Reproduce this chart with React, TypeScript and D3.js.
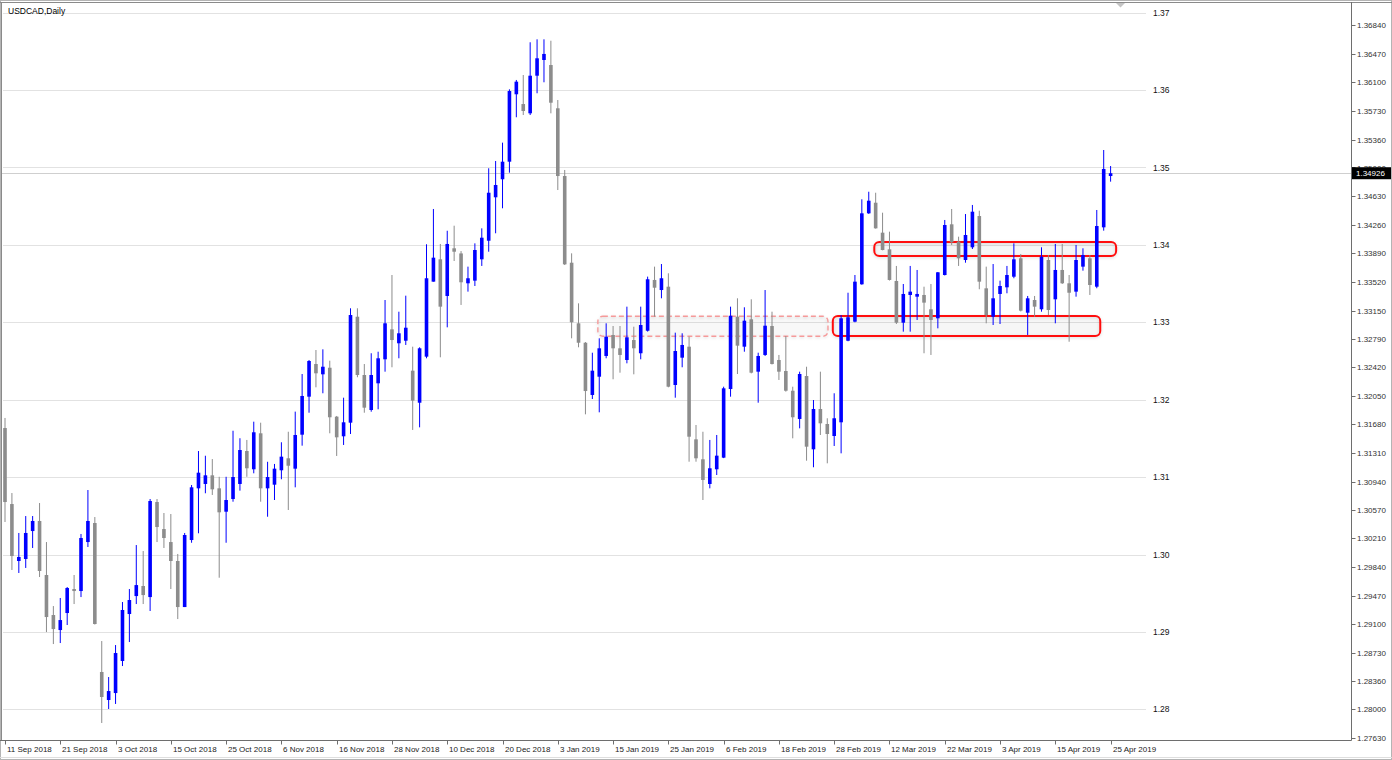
import React from 'react';
import * as d3 from 'd3';

// ---- Data: daily USDCAD candles [open, high, low, close] grouped by month ----
const sep2018: number[][] = [
  [1.31634, 1.31764, 1.3042, 1.30678],
  [1.30652, 1.30794, 1.298, 1.2998],
  [1.29916, 1.30278, 1.29761, 1.29968],
  [1.29942, 1.30497, 1.29826, 1.30278],
  [1.30303, 1.30497, 1.30084, 1.30433],
  [1.30433, 1.30665, 1.29709, 1.29787],
  [1.29735, 1.30161, 1.28998, 1.29192],
  [1.29218, 1.29334, 1.28843, 1.29037],
  [1.29024, 1.29438, 1.28856, 1.29153],
  [1.29244, 1.2958, 1.29089, 1.29567],
  [1.29554, 1.29735, 1.2936, 1.29528],
  [1.29528, 1.30265, 1.2945, 1.30213],
  [1.30161, 1.30833, 1.30097, 1.30433],
  [1.30407, 1.30484, 1.29095, 1.29102],
];
const oct2018: number[][] = [
  [1.28482, 1.28882, 1.27823, 1.28159],
  [1.2812, 1.28417, 1.28004, 1.28236],
  [1.2821, 1.2883, 1.28069, 1.28727],
  [1.28624, 1.29386, 1.28559, 1.29283],
  [1.29231, 1.29554, 1.28869, 1.29412],
  [1.29463, 1.30122, 1.2936, 1.29605],
  [1.29593, 1.30045, 1.2936, 1.29476],
  [1.2945, 1.30717, 1.2927, 1.30691],
  [1.30678, 1.30717, 1.30161, 1.30355],
  [1.30329, 1.30536, 1.30084, 1.30213],
  [1.30161, 1.30523, 1.29554, 1.29916],
  [1.29916, 1.30007, 1.29166, 1.29321],
  [1.29321, 1.30278, 1.29321, 1.30252],
  [1.30187, 1.30898, 1.30152, 1.30868],
  [1.30855, 1.31337, 1.30274, 1.31057],
  [1.30911, 1.31276, 1.30791, 1.31023],
  [1.31023, 1.31233, 1.30769, 1.30842],
  [1.30855, 1.31004, 1.297, 1.30545],
  [1.30553, 1.31004, 1.30152, 1.30704],
  [1.30717, 1.31599, 1.30682, 1.31001],
  [1.30911, 1.31502, 1.30825, 1.3135],
  [1.31337, 1.3148, 1.31004, 1.31114],
  [1.31101, 1.31716, 1.31049, 1.31579],
];
const nov2018: number[][] = [
  [1.31566, 1.31703, 1.30682, 1.30855],
  [1.30855, 1.31198, 1.30488, 1.31001],
  [1.30902, 1.3117, 1.30704, 1.31109],
  [1.31088, 1.3145, 1.30972, 1.31264],
  [1.31243, 1.31586, 1.30575, 1.31147],
  [1.31109, 1.31846, 1.30868, 1.31544],
  [1.31548, 1.32332, 1.31406, 1.32048],
  [1.32039, 1.32513, 1.31832, 1.325],
  [1.32461, 1.32642, 1.3216, 1.32341],
  [1.32328, 1.32651, 1.32083, 1.32426],
  [1.32413, 1.32504, 1.31566, 1.31773],
  [1.31781, 1.3179, 1.31273, 1.31514],
  [1.31527, 1.32026, 1.31415, 1.31708],
  [1.31703, 1.33181, 1.31557, 1.33094],
  [1.33072, 1.33181, 1.3229, 1.32319],
  [1.32319, 1.32461, 1.31832, 1.31897],
  [1.31867, 1.326, 1.31845, 1.32319],
  [1.32212, 1.3262, 1.31876, 1.32535],
  [1.32522, 1.33288, 1.32362, 1.32987],
  [1.32909, 1.33611, 1.32419, 1.32771],
  [1.32729, 1.33137, 1.32535, 1.32858],
  [1.32762, 1.33344, 1.32707, 1.3293],
];
const dec2018: number[][] = [
  [1.32375, 1.32685, 1.31609, 1.31988],
  [1.31961, 1.32677, 1.31643, 1.32664],
  [1.32556, 1.34008, 1.32535, 1.33569],
  [1.33525, 1.34464, 1.33525, 1.33835],
  [1.33814, 1.34012, 1.32548, 1.33202],
  [1.3334, 1.34183, 1.32935, 1.34012],
  [1.33956, 1.34248, 1.33792, 1.33912],
  [1.3389, 1.3392, 1.33224, 1.33517],
  [1.33504, 1.33719, 1.33396, 1.33569],
  [1.33538, 1.3402, 1.33469, 1.33934],
  [1.33814, 1.34214, 1.33728, 1.34093],
  [1.34054, 1.3499, 1.33912, 1.34674],
  [1.34615, 1.35084, 1.3415, 1.34774],
  [1.34848, 1.35321, 1.34473, 1.35075],
  [1.35075, 1.3601, 1.34933, 1.35988],
  [1.35946, 1.36131, 1.35649, 1.36109],
  [1.3582, 1.36195, 1.35678, 1.3573],
  [1.357, 1.36618, 1.35678, 1.36186],
  [1.36186, 1.36656, 1.35959, 1.36411],
  [1.36389, 1.36656, 1.36101, 1.36467],
];
const jan2019: number[][] = [
  [1.36324, 1.36638, 1.357, 1.35837],
  [1.35765, 1.35872, 1.34709, 1.3489],
  [1.3489, 1.34968, 1.3374, 1.33749],
  [1.3377, 1.33891, 1.32793, 1.33],
  [1.32987, 1.33245, 1.32677, 1.32736],
  [1.32736, 1.32745, 1.31811, 1.32112],
  [1.32061, 1.32607, 1.32009, 1.32375],
  [1.32297, 1.32793, 1.31837, 1.32664],
  [1.32565, 1.32987, 1.32535, 1.32814],
  [1.32836, 1.32952, 1.32264, 1.32664],
  [1.32664, 1.32952, 1.32349, 1.32578],
  [1.32513, 1.33202, 1.3247, 1.32806],
  [1.32771, 1.32943, 1.32328, 1.32664],
  [1.326, 1.33202, 1.32522, 1.32965],
  [1.32891, 1.3359, 1.3288, 1.33556],
  [1.33547, 1.33719, 1.33072, 1.33447],
  [1.33417, 1.33753, 1.3331, 1.33569],
  [1.3346, 1.33633, 1.3216, 1.32168],
  [1.3219, 1.32866, 1.32026, 1.32629],
  [1.32543, 1.32858, 1.32419, 1.32707],
  [1.32685, 1.32814, 1.31199, 1.31522],
  [1.31488, 1.31673, 1.31199, 1.31243],
];
const feb2019: number[][] = [
  [1.3123, 1.31586, 1.30704, 1.30963],
  [1.30911, 1.3148, 1.30855, 1.31114],
  [1.31101, 1.31544, 1.31027, 1.31277],
  [1.31251, 1.32168, 1.31245, 1.32147],
  [1.32138, 1.33202, 1.32039, 1.33085],
  [1.33072, 1.3331, 1.32332, 1.32698],
  [1.32685, 1.33194, 1.3262, 1.33021],
  [1.33039, 1.33297, 1.3234, 1.32349],
  [1.32362, 1.32607, 1.31961, 1.32565],
  [1.32578, 1.33417, 1.32565, 1.32956],
  [1.32952, 1.33137, 1.32455, 1.32461],
  [1.32513, 1.32578, 1.32255, 1.32362],
  [1.32371, 1.32823, 1.32104, 1.32116],
  [1.32116, 1.32168, 1.31501, 1.31773],
  [1.31751, 1.32362, 1.3163, 1.32332],
  [1.32306, 1.32426, 1.31212, 1.31393],
  [1.31359, 1.31996, 1.31127, 1.3188],
  [1.3188, 1.32362, 1.31544, 1.31695],
  [1.31686, 1.3176, 1.31178, 1.31557],
  [1.31531, 1.32083, 1.31402, 1.3176],
];
const mar2019: number[][] = [
  [1.31708, 1.33094, 1.31307, 1.33052],
  [1.32762, 1.33382, 1.32755, 1.33065],
  [1.33008, 1.33611, 1.33, 1.33525],
  [1.33491, 1.34589, 1.33485, 1.34408],
  [1.34408, 1.34687, 1.344, 1.34571],
  [1.34545, 1.34674, 1.3421, 1.34214],
  [1.34158, 1.34416, 1.3393, 1.33934],
  [1.33943, 1.34171, 1.3354, 1.33547],
  [1.33534, 1.33728, 1.32978, 1.32995],
  [1.32995, 1.33495, 1.32879, 1.33366],
  [1.33353, 1.33728, 1.32879, 1.33396],
  [1.33331, 1.33676, 1.3303, 1.33366],
  [1.33353, 1.3346, 1.326, 1.33254],
  [1.33168, 1.33495, 1.32578, 1.3303],
  [1.33052, 1.3365, 1.32922, 1.33646],
  [1.33611, 1.34322, 1.33605, 1.34257],
  [1.34266, 1.34464, 1.33999, 1.34034],
  [1.34042, 1.34106, 1.33728, 1.33827],
  [1.33805, 1.34399, 1.3377, 1.34128],
  [1.33969, 1.34516, 1.33947, 1.34429],
  [1.34373, 1.34442, 1.33427, 1.33525],
];
const apr2019: number[][] = [
  [1.33439, 1.33719, 1.32987, 1.33094],
  [1.33072, 1.33753, 1.32965, 1.3331],
  [1.33366, 1.33538, 1.32978, 1.33469],
  [1.33452, 1.33728, 1.33375, 1.33611],
  [1.33589, 1.3402, 1.33569, 1.33814],
  [1.33827, 1.33882, 1.3314, 1.3315],
  [1.33124, 1.3334, 1.32836, 1.3331],
  [1.33288, 1.3334, 1.33072, 1.33202],
  [1.33168, 1.33969, 1.33137, 1.33848],
  [1.33805, 1.33869, 1.33094, 1.33159],
  [1.33297, 1.34012, 1.32987, 1.33676],
  [1.33676, 1.34012, 1.33495, 1.33504],
  [1.33504, 1.33611, 1.32749, 1.33382],
  [1.33396, 1.33999, 1.33331, 1.33805],
  [1.33719, 1.33956, 1.33667, 1.33869],
  [1.33827, 1.33869, 1.33353, 1.33482],
  [1.3346, 1.34451, 1.3344, 1.34244],
  [1.34227, 1.35226, 1.34184, 1.34981],
  [1.3489, 1.35019, 1.34817, 1.34926],
];

const roundLevels = [1.37, 1.36, 1.35, 1.34, 1.33, 1.32, 1.31, 1.3, 1.29, 1.28];
const roundLevelLabels = ['1.37', '1.36', '1.35', '1.34', '1.33', '1.32', '1.31', '1.30', '1.29', '1.28'];
const priceAxisLabels = [
  '1.36840', '1.36470', '1.36100', '1.35730', '1.35360', '1.35000', '1.34630', '1.34260',
  '1.33890', '1.33520', '1.33150', '1.32790', '1.32420', '1.32050', '1.31680', '1.31310',
  '1.30940', '1.30570', '1.30210', '1.29840', '1.29470', '1.29100', '1.28730', '1.28360',
  '1.28000', '1.27630',
];
const dateLabels = [
  '11 Sep 2018', '21 Sep 2018', '3 Oct 2018', '15 Oct 2018', '25 Oct 2018', '6 Nov 2018',
  '16 Nov 2018', '28 Nov 2018', '10 Dec 2018', '20 Dec 2018', '3 Jan 2019', '15 Jan 2019',
  '25 Jan 2019', '6 Feb 2019', '18 Feb 2019', '28 Feb 2019', '12 Mar 2019', '22 Mar 2019',
  '3 Apr 2019', '15 Apr 2019', '25 Apr 2019',
];
const dateLabelBars = [0, 8, 16, 24, 32, 40, 48, 56, 64, 72, 80, 88, 96, 104, 112, 120, 128, 136, 144, 152, 160];
const currentPrice = 1.34926;
const zoneFrom = [85.8, 119.8, 125.8];
const zoneTo = [119.1, 158.5, 160.8];
const zoneTop = [1.33078, 1.33081, 1.34037];
const zoneBottom = [1.3282, 1.32823, 1.33857];
const zoneDashed = [true, false, false];

const candles = [...sep2018, ...oct2018, ...nov2018, ...dec2018, ...jan2019, ...feb2019, ...mar2019, ...apr2019];

const W = 1392;
const H = 760;
const FONT = "'Liberation Sans', Arial, sans-serif";

export default function App() {
  const x = d3.scaleLinear().domain([0, 160]).range([5, 1110.6]);
  const y = d3.scaleLinear().domain([1.28, 1.37]).range([709.3, 12.7]);
  const bull = '#0000ff';
  const bear = '#8c8c8c';
  const axisX = 1351.5;
  const axisY = 740.5;

  return (
    <svg width={W} height={H} style={{ position: 'absolute', left: 0, top: 0, background: '#fff' }}
      fontFamily={FONT}>
      <defs>
        <clipPath id="plot">
          <rect x={2} y={3} width={axisX - 2} height={axisY - 3} />
        </clipPath>
        <filter id="shadow" x="-5%" y="-40%" width="110%" height="180%">
          <feDropShadow dx="0" dy="1" stdDeviation="1.5" floodColor="#000" floodOpacity="0.15" />
        </filter>
      </defs>
      <rect x={0} y={0} width={W} height={H} fill="#fff" />

      {/* round-level grid */}
      {roundLevels.map((v, k) => (
        <g key={'g' + k}>
          <line x1={3} x2={1146} y1={Math.round(y(v)) + 0.5} y2={Math.round(y(v)) + 0.5} stroke="#e2e2e2" />
          <text x={1153} y={y(v) + 3} fontSize={8.5} fill="#111">{roundLevelLabels[k]}</text>
        </g>
      ))}
      {/* current price line */}
      <line x1={2} x2={axisX} y1={Math.round(y(currentPrice)) + 0.5} y2={Math.round(y(currentPrice)) + 0.5}
        stroke="#cfcfcf" />

      <g clipPath="url(#plot)">
        {/* zones */}
        {zoneFrom.map((f, k) => (
          <rect key={'z' + k} x={x(f)} y={y(zoneTop[k])} width={x(zoneTo[k]) - x(f)}
            height={y(zoneBottom[k]) - y(zoneTop[k])} rx={5} ry={5}
            fill={zoneDashed[k] ? 'rgba(0,0,0,0.025)' : 'rgba(0,0,0,0.03)'}
            stroke={zoneDashed[k] ? '#f59a9a' : '#ff1010'}
            strokeWidth={zoneDashed[k] ? 1.4 : 2}
            strokeDasharray={zoneDashed[k] ? '5 3' : undefined}
            filter="url(#shadow)" />
        ))}
        {/* candles */}
        {candles.map((c, i) => {
          const [o, h, l, cl] = c;
          const up = cl >= o;
          const col = up ? bull : bear;
          const cx = x(i);
          const top = y(Math.max(o, cl));
          const bh = Math.max(1, Math.abs(y(o) - y(cl)));
          return (
            <g key={'c' + i}>
              <line x1={cx} x2={cx} y1={y(h)} y2={y(l)} stroke={col} strokeWidth={1} />
              <rect x={cx - 1.8} y={top} width={3.6} height={bh} fill={col} />
            </g>
          );
        })}
      </g>

      {/* frame */}
      <rect x={0.5} y={0.5} width={W - 1} height={H - 1} fill="none" stroke="#b4b4b4" />
      <line x1={0} x2={W} y1={2.5} y2={2.5} stroke="#8a8a8a" />
      <line x1={1.5} x2={1.5} y1={2} y2={axisY} stroke="#8a8a8a" />
      <line x1={axisX} x2={axisX} y1={2} y2={axisY} stroke="#6e6e6e" />
      <line x1={0} x2={axisX} y1={axisY} y2={axisY} stroke="#6e6e6e" />
      <line x1={0} x2={W} y1={757.5} y2={757.5} stroke="#dedede" />
      <polygon points="1116,3 1125,3 1120.5,7.5" fill="#c4c4c4" />

      {/* title */}
      <text x={8} y={14} fontSize={8.5} fill="#000">USDCAD,Daily</text>

      {/* price axis */}
      {priceAxisLabels.map((s, k) => {
        const py = y(parseFloat(s));
        return (
          <g key={'p' + k}>
            <line x1={axisX} x2={axisX + 4} y1={Math.round(py) + 0.5} y2={Math.round(py) + 0.5} stroke="#6e6e6e" />
            <text x={1357} y={py + 3} fontSize={8} fill="#333">{s}</text>
          </g>
        );
      })}
      <rect x={1352} y={y(currentPrice) - 6} width={39} height={12} fill="#000" />
      <text x={1356} y={y(currentPrice) + 3} fontSize={8} fill="#fff">{currentPrice.toFixed(5)}</text>

      {/* date axis */}
      {dateLabels.map((s, k) => {
        const tx = Math.round(x(dateLabelBars[k])) + 0.5;
        return (
          <g key={'d' + k}>
            <line x1={tx} x2={tx} y1={axisY} y2={axisY + 4} stroke="#6e6e6e" />
            <text x={tx + 1.5} y={752} fontSize={8} fill="#222">{s}</text>
          </g>
        );
      })}
    </svg>
  );
}
